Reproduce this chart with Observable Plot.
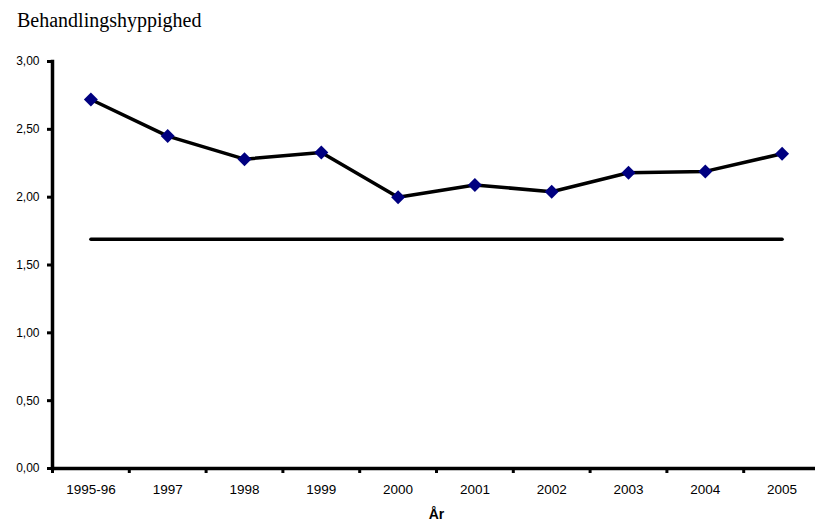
<!DOCTYPE html>
<html>
<head>
<meta charset="utf-8">
<script src="https://cdn.jsdelivr.net/npm/d3@7"></script>
<script src="https://cdn.jsdelivr.net/npm/@observablehq/plot@0.6"></script>
<style>
  html, body { margin: 0; padding: 0; background: #fff; }
  #wrap { position: relative; width: 815px; height: 525px; overflow: hidden; }
  #title {
    position: absolute; left: 17px; top: 9px;
    font-family: "Liberation Serif", "Times New Roman", serif;
    font-size: 20px; color: #000;
  }
  #chart { position: absolute; left: 0; top: 0; }
</style>
</head>
<body>
<div id="wrap">
  <div id="chart"></div>
  <div id="title">Behandlingshyppighed</div>
</div>
<script>
// Treatment frequency per year
const years = ["1995-96", "1997", "1998", "1999", "2000", "2001", "2002", "2003", "2004", "2005"];
const frequency = [2.72, 2.45, 2.28, 2.33, 2.00, 2.09, 2.04, 2.18, 2.19, 2.32];
// Reference level drawn as a flat line across the period
const referenceLevel = 1.69;
const yTicks = [0, 0.5, 1, 1.5, 2, 2.5, 3];
const xLabel = "År";

const rows = years.map((year, i) => ({year, value: frequency[i]}));
const refRows = [
  {year: years[0], value: referenceLevel},
  {year: years[years.length - 1], value: referenceLevel}
];

const W = 815, H = 525;
const mL = 52, mR = -5, mT = 61, mB = 57;
const halfBand = (W - mL - mR) / years.length / 2;
const fmt = d => d3.format(".2f")(d).replace(".", ",");

const chart = Plot.plot({
  width: W,
  height: H,
  marginLeft: mL,
  marginRight: mR,
  marginTop: mT,
  marginBottom: mB,
  style: {fontFamily: "'Liberation Sans', Arial, sans-serif", fontSize: "12px", color: "#000", background: "transparent", overflow: "visible"},
  x: {type: "band", domain: years, padding: 0, round: false},
  y: {domain: [0, 3]},
  marks: [
    // y axis ticks and labels
    Plot.axisY({ticks: yTicks, tickFormat: fmt, tickSize: 5, tickPadding: 8, strokeWidth: 3, label: null, fontSize: 12, letterSpacing: "1px"}),
    // category labels under the axis
    Plot.axisX({tickSize: 0, tickPadding: 16, label: null, fontSize: 13.5}),
    // tick marks at category boundaries
    Plot.axisX({tickSize: 5, tickFormat: () => "", strokeWidth: 3, dx: -halfBand, label: null}),
    Plot.text([xLabel], {frameAnchor: "bottom", dy: 50, fontWeight: "bold", fontSize: 14}),
    // axis lines
    Plot.ruleY([0], {strokeWidth: 3.5}),
    Plot.frame({anchor: "left", strokeWidth: 3.5}),
    // reference level
    Plot.line(refRows, {x: "year", y: "value", stroke: "#000", strokeWidth: 3.5}),
    // yearly series
    Plot.line(rows, {x: "year", y: "value", stroke: "#000", strokeWidth: 3.5}),
    Plot.dot(rows, {x: "year", y: "value", symbol: "diamond2", r: 6.3, fill: "#000080", stroke: "none"})
  ]
});
document.getElementById("chart").append(chart);
</script>
</body>
</html>
